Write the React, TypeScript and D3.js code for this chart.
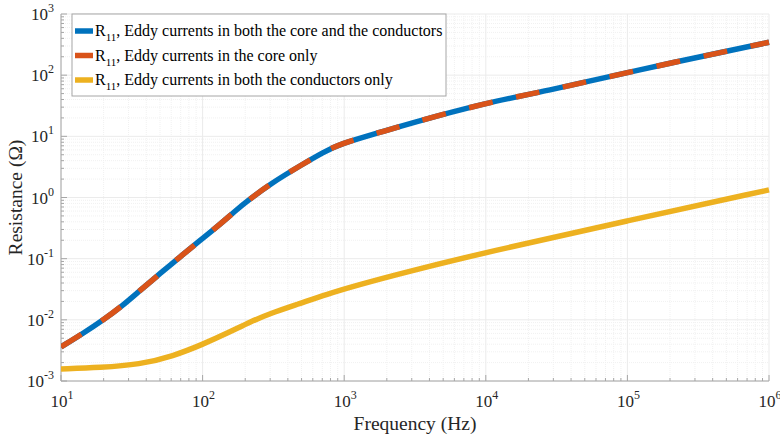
import React from "react";
import * as d3 from "d3";

const freqBoth = [10, 14.3, 19.8, 27, 36, 50, 69, 96, 126, 174, 205, 300, 514, 711, 933, 1790, 2750, 10000, 30000, 100000, 1000000];
const rBoth = [0.0036, 0.006, 0.0099, 0.0168, 0.03, 0.057, 0.106, 0.199, 0.33, 0.63, 0.86, 1.67, 3.55, 5.48, 7.5, 11.6, 15.7, 35.5, 58, 112, 345];
const freqCore = freqBoth;
const rCore = rBoth;
const freqCond = [10, 19, 36, 62, 101, 156, 216, 299, 487, 752, 1225, 2700, 10000, 100000, 1000000];
const rCond = [0.00157, 0.00166, 0.00186, 0.00255, 0.004, 0.00634, 0.0092, 0.0127, 0.0185, 0.0262, 0.0367, 0.06, 0.127, 0.417, 1.33];

const xTickExps = [1, 2, 3, 4, 5, 6];
const yTickExps = [-3, -2, -1, 0, 1, 2, 3];
const legendLabels = [
  "Eddy currents in both the core and the conductors",
  "Eddy currents in the core only",
  "Eddy currents in both the conductors only",
];
const colors = ["#0072BD", "#D95319", "#EDB120"];

const W = 780, H = 435;
const L = 61, R = 769, T = 14, B = 381;
const FONT = "'Liberation Serif', serif";

export default function App() {
  const x = d3.scaleLog().domain([10, 1e6]).range([L, R]);
  const y = d3.scaleLog().domain([1e-3, 1e3]).range([B, T]);
  const line = d3
    .line<[number, number]>()
    .x((d) => x(d[0]))
    .y((d) => y(d[1]))
    .curve(d3.curveBasis);

  const minorX: number[] = [];
  for (let e = 1; e < 6; e++) for (let m = 2; m <= 9; m++) minorX.push(m * Math.pow(10, e));
  const minorY: number[] = [];
  for (let e = -3; e < 3; e++) for (let m = 2; m <= 9; m++) minorY.push(m * Math.pow(10, e));

  const dBoth = line(freqBoth.map((f, i) => [f, rBoth[i]] as [number, number])) || "";
  const dCore = line(freqCore.map((f, i) => [f, rCore[i]] as [number, number])) || "";
  const dCond = line(freqCond.map((f, i) => [f, rCond[i]] as [number, number])) || "";

  const lw = 5.5;
  const ts = { fontFamily: FONT };

  return (
    <svg width={W} height={H} style={{ position: "absolute", left: 0, top: 0, background: "#fff" }}>
      <defs>
        <clipPath id="plot">
          <rect x={L} y={T - 3} width={R - L + 3} height={B - T + 3} />
        </clipPath>
      </defs>
      {minorX.map((v) => (
        <line key={"mx" + v} x1={x(v)} x2={x(v)} y1={T} y2={B} stroke="#f1f1f1" strokeWidth={1} strokeDasharray="1 1" />
      ))}
      {minorY.map((v) => (
        <line key={"my" + v} x1={L} x2={R} y1={y(v)} y2={y(v)} stroke="#f1f1f1" strokeWidth={1} strokeDasharray="1 1" />
      ))}
      {xTickExps.map((e) => (
        <line key={"gx" + e} x1={x(Math.pow(10, e))} x2={x(Math.pow(10, e))} y1={T} y2={B} stroke="#ebebeb" strokeWidth={1} />
      ))}
      {yTickExps.map((e) => (
        <line key={"gy" + e} x1={L} x2={R} y1={y(Math.pow(10, e))} y2={y(Math.pow(10, e))} stroke="#ebebeb" strokeWidth={1} />
      ))}
      <line x1={L} x2={L} y1={T} y2={B} stroke="#a6a6a6" strokeWidth={1} />
      <line x1={L} x2={R} y1={B} y2={B} stroke="#a6a6a6" strokeWidth={1} />
      {yTickExps.map((e) => (
        <line key={"ty" + e} x1={L} x2={L + 6} y1={y(Math.pow(10, e))} y2={y(Math.pow(10, e))} stroke="#a6a6a6" />
      ))}
      {minorY.map((v) => (
        <line key={"tmy" + v} x1={L} x2={L + 3} y1={y(v)} y2={y(v)} stroke="#a6a6a6" />
      ))}
      {xTickExps.map((e) => (
        <line key={"tx" + e} x1={x(Math.pow(10, e))} x2={x(Math.pow(10, e))} y1={B} y2={B - 6} stroke="#a6a6a6" />
      ))}
      {minorX.map((v) => (
        <line key={"tmx" + v} x1={x(v)} x2={x(v)} y1={B} y2={B - 3} stroke="#a6a6a6" />
      ))}
      <g clipPath="url(#plot)" fill="none">
        <path d={dCond} stroke={colors[2]} strokeWidth={lw} />
        <path d={dBoth} stroke={colors[0]} strokeWidth={lw} />
        <path d={dCore} stroke={colors[1]} strokeWidth={lw} strokeDasharray="24 24" />
      </g>
      {yTickExps.map((e) => (
        <text key={"ly" + e} style={ts} x={54} y={y(Math.pow(10, e)) + 6} textAnchor="end" fontSize={17} fill="#262626">
          10
          <tspan dy={-8} fontSize={12}>{e}</tspan>
        </text>
      ))}
      {xTickExps.map((e) => (
        <text key={"lx" + e} style={ts} x={x(Math.pow(10, e)) + 1} y={407} textAnchor="middle" fontSize={17} fill="#262626">
          10
          <tspan dy={-8} fontSize={12}>{e}</tspan>
        </text>
      ))}
      <text style={ts} x={(L + R) / 2} y={430} textAnchor="middle" fontSize={19.5} fill="#262626">
        Frequency (Hz)
      </text>
      <text style={ts} transform={`translate(22,${(T + B) / 2}) rotate(-90)`} textAnchor="middle" fontSize={19.5} fill="#262626">
        Resistance (Ω)
      </text>
      <rect x={72} y={14} width={374} height={82} fill="#fff" stroke="#a6a6a6" strokeWidth={1} />
      {legendLabels.map((lab, i) => {
        const cy = 31 + i * 24.5;
        return (
          <g key={"lg" + i}>
            <line x1={75} x2={93} y1={cy} y2={cy} stroke={colors[i]} strokeWidth={lw} />
            <text style={ts} x={95} y={cy + 5} fontSize={16} fill="#000">
              R<tspan dy={5} fontSize={11}>11</tspan>
              <tspan dy={-5}>, {lab}</tspan>
            </text>
          </g>
        );
      })}
    </svg>
  );
}
